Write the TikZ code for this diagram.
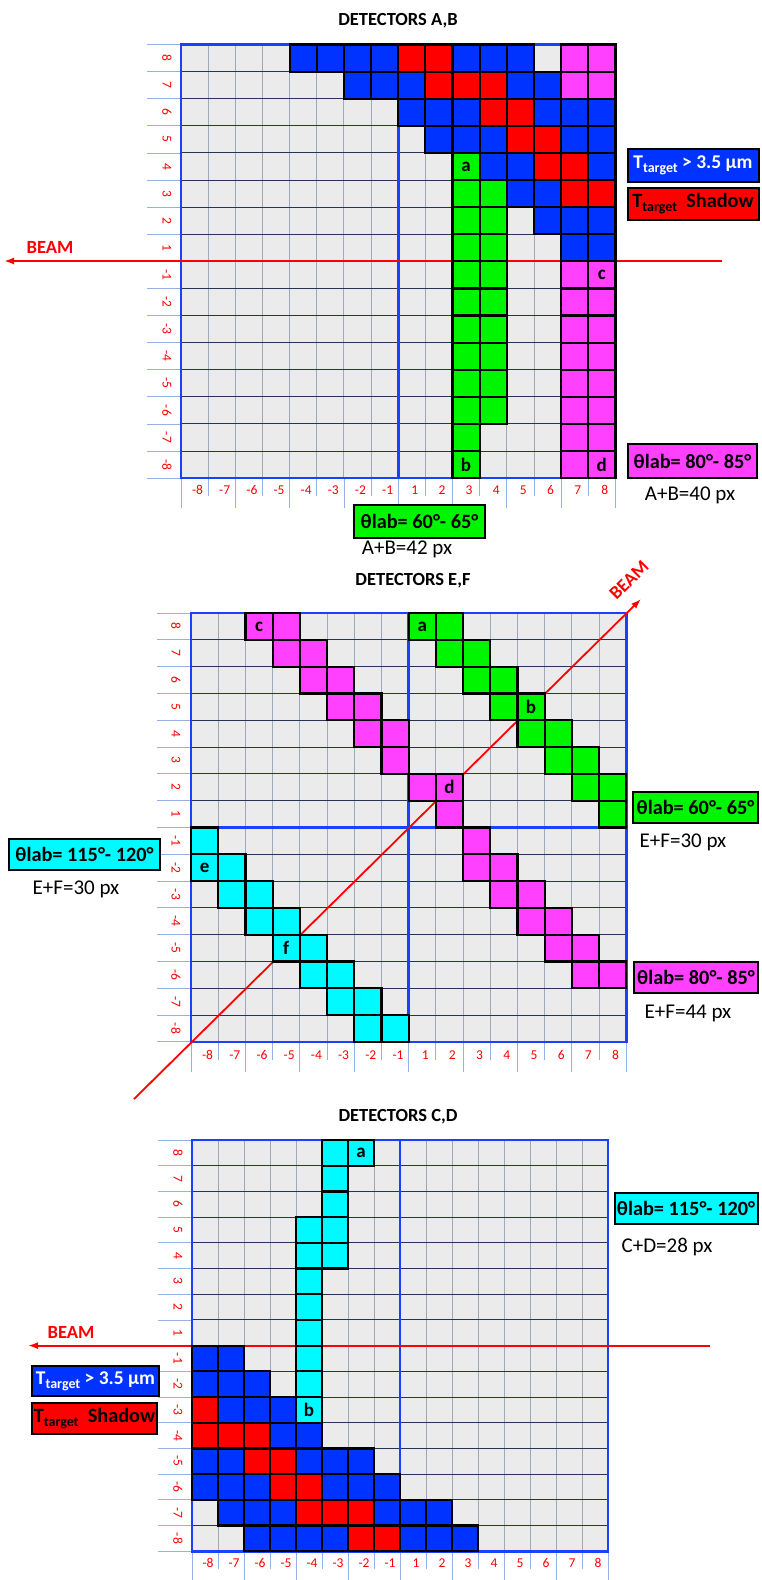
\documentclass[tikz,border=0pt]{standalone}
\usepackage{fontspec}
\setmainfont{Carlito}
\usetikzlibrary{arrows.meta}
\definecolor{cBlue}{RGB}{0,51,255}
\definecolor{cRed}{RGB}{255,0,0}
\definecolor{cGreen}{RGB}{0,245,0}
\definecolor{cMag}{RGB}{255,64,255}
\definecolor{cCyan}{RGB}{0,250,255}
\definecolor{cGray}{RGB}{235,235,235}
\definecolor{cVline}{RGB}{160,168,188}
\definecolor{cHline}{RGB}{40,52,85}
\definecolor{cBord}{RGB}{25,65,255}
\definecolor{cTick}{RGB}{150,178,228}
\newcommand\mycell[3]{\fill[#1,draw=black,line width=2.2pt] ({\gx+(#2-1)*\cw},{\gy+(#3-1)*\ch}) rectangle ++(\cw,\ch);}
\newcommand\myletter[3]{\node[lett] (#1) at ({\gx+(#2-0.5)*\cw},{\gy+(#3-0.5)*\ch}) {#1};}
\newcommand\drawgrid[2]{%
  \fill[cGray] (\gx,\gy) rectangle ++({16*\cw},{16*\ch});
  \foreach \i in {1,...,15} \draw[vline] ({\gx+\i*\cw},\gy) -- ++(0,{16*\ch});
  \foreach \i in {1,...,15} \draw[hline] (\gx,{\gy+\i*\ch}) -- ++({16*\cw},0);
  \foreach \i in {0,...,16} \draw[tick] ({\gx-34},{\gy+\i*\ch}) -- ++(34,0);
  \foreach \i in {0,...,16} \draw[tick] ({\gx+\i*\cw},{\gy+16*\ch}) -- ++(0,{ifthenelse(mod(\i,2)==0,30,18)});
  \draw[bord] (\gx,\gy) rectangle ++({16*\cw},{16*\ch});
  \draw[bord] ({\gx+8*\cw},\gy) -- ++(0,{16*\ch});
  \ifnum#1=1 \draw[bord] (\gx,{\gy+8*\ch}) -- ++({16*\cw},0);\fi
  \foreach \lab [count=\i] in {8,7,6,5,4,3,2,1,-1,-2,-3,-4,-5,-6,-7,-8}
    \node[ylab] (yl#2\i) at (\lx,{\gy+(\i-0.5)*\ch}) {\lab};
  \foreach \lab [count=\i] in {-8,-7,-6,-5,-4,-3,-2,-1,1,2,3,4,5,6,7,8}
    \node[xlab] (xl#2\i) at ({\gx+(\i-0.5)*\cw+3},\ly) {\lab};
}
\newcommand\Tt{T\raisebox{-0.45ex}{\fontsize{14}{14}\selectfont target}}
\begin{document}
\begin{tikzpicture}[x=1pt,y=-1pt,
  vline/.style={draw=cVline,line width=0.9pt},
  hline/.style={draw=cHline,line width=0.9pt},
  tick/.style={draw=cTick,line width=0.8pt},
  bord/.style={draw=cBord,line width=2.6pt},
  ylab/.style={text=cRed,font=\fontsize{13.5}{13.5}\selectfont,rotate=-90,inner sep=0pt},
  xlab/.style={text=cRed,font=\fontsize{13.5}{13.5}\selectfont,inner sep=0pt},
  lett/.style={font=\bfseries\fontsize{19}{19}\selectfont,inner sep=0pt},
  ttl/.style={font=\bfseries\fontsize{18.5}{18.5}\selectfont,inner sep=0pt},
  box/.style={draw=black,line width=2pt,inner sep=0pt,font=\bfseries\fontsize{20.3}{20.3}\selectfont},
  note/.style={font=\fontsize{21}{21}\selectfont,inner sep=0pt},
  beamline/.style={draw=cRed,line width=1.8pt},
  beamtxt/.style={text=cRed,font=\bfseries\fontsize{18.6}{18.6}\selectfont,inner sep=0pt}]
\useasboundingbox (0,0) rectangle (761,1580);
\fill[white] (0,0) rectangle (761,1580);

% ================= GRID 1 : A,B =================
\node[ttl] (t1) at (398,21) {DETECTORS A,B};
\def\gx{181}\def\gy{44.5}\def\cw{27.15}\def\ch{27.1}\def\lx{167}\def\ly{490}
\drawgrid{0}{a}
\coordinate (b1s) at (722,261);
\coordinate (b1e) at (4,261);
\draw[beamline,-{Latex[length=10pt,width=7pt]}] (b1s) -- (b1e);
\node[beamtxt] (bt1) at (50,247) {BEAM};
\foreach \c/\r in {5/1,6/1,7/1,8/1,11/1,12/1,13/1,7/2,8/2,9/2,13/2,14/2,9/3,10/3,11/3,14/3,15/3,16/3,10/4,11/4,12/4,15/4,16/4,12/5,13/5,16/5,13/6,14/6,14/7,15/7,16/7,15/8,16/8}
  \mycell{cBlue}{\c}{\r};
\foreach \c/\r in {9/1,10/1,10/2,11/2,12/2,12/3,13/3,13/4,14/4,14/5,15/5,15/6,16/6}
  \mycell{cRed}{\c}{\r};
\foreach \r in {1,2,9,10,11,12,13,14,15,16} {\mycell{cMag}{15}{\r}\mycell{cMag}{16}{\r}}
\foreach \r in {5,...,16} {\mycell{cGreen}{11}{\r}}
\foreach \r in {6,...,14} {\mycell{cGreen}{12}{\r}}
\myletter{a}{11}{5}\myletter{b}{11}{16}\myletter{c}{16}{9}\myletter{d}{16}{16}
\node[box,fill=cBlue,text=white,minimum width=131pt,minimum height=33pt] (k1) at (693,165.5) {\fontsize{19.5}{19.5}\selectfont\Tt{} {>} 3.5 μm};
\node[box,fill=cRed,minimum width=131pt,minimum height=32pt] (k2) at (693,203.5) {\Tt\ \ Shadow};
\node[box,fill=cMag,minimum width=129pt,minimum height=34pt] (m1) at (692.5,461) {θlab= 80°- 85°};
\node[note] (n1) at (690,495) {A+B=40 px};
\node[box,fill=cGreen,minimum width=131pt,minimum height=33pt] (g1) at (419.5,521.5) {θlab= 60°- 65°};
\node[note] (n2) at (407,549) {A+B=42 px};

% ================= GRID 2 : E,F =================
\node[ttl] (t2) at (413,581) {DETECTORS E,F};
\def\gx{191}\def\gy{613}\def\cw{27.2}\def\ch{26.8}\def\lx{176}\def\ly{1055}
\drawgrid{1}{e}
\coordinate (b2s) at (134,1099);
\coordinate (b2e) at (641,599);
\draw[beamline,-{Latex[length=10pt,width=7pt]}] (b2s) -- (b2e);
\node[beamtxt,rotate=45] (bt2) at (629,580) {BEAM};
\foreach \c/\r in {3/1,4/1,4/2,5/2,5/3,6/3,6/4,7/4,7/5,8/5,8/6,9/7,10/7,10/8,11/9,11/10,12/10,12/11,13/11,13/12,14/12,14/13,15/13,15/14,16/14}
  \mycell{cMag}{\c}{\r};
\foreach \c/\r in {9/1,10/1,10/2,11/2,11/3,12/3,12/4,13/4,13/5,14/5,14/6,15/6,15/7,16/7,16/8}
  \mycell{cGreen}{\c}{\r};
\foreach \c/\r in {1/9,1/10,2/10,2/11,3/11,3/12,4/12,4/13,5/13,5/14,6/14,6/15,7/15,7/16,8/16}
  \mycell{cCyan}{\c}{\r};
\myletter{c}{3}{1}\myletter{a}{9}{1}\myletter{b}{13}{4}\myletter{d}{10}{7}\myletter{e}{1}{10}\myletter{f}{4}{13}
\node[box,fill=cCyan,minimum width=151pt,minimum height=31pt] (cy2) at (84.5,854.5) {θlab= 115°- 120°};
\node[note] (n3) at (76,889) {E+F=30 px};
\node[box,fill=cGreen,minimum width=125pt,minimum height=31pt] (g2) at (695.5,807.5) {θlab= 60°- 65°};
\node[note] (n4) at (683,842) {E+F=30 px};
\node[box,fill=cMag,minimum width=124pt,minimum height=31pt] (m2) at (696,977.5) {θlab= 80°- 85°};
\node[note] (n5) at (688,1013) {E+F=44 px};

% ================= GRID 3 : C,D =================
\node[ttl] (t3) at (398,1117) {DETECTORS C,D};
\def\gx{192}\def\gy{1140}\def\cw{26}\def\ch{25.7}\def\lx{178}\def\ly{1563}
\drawgrid{0}{c}
\coordinate (b3s) at (710,1345.6);
\coordinate (b3e) at (28,1345.6);
\draw[beamline,-{Latex[length=10pt,width=7pt]}] (b3s) -- (b3e);
\node[beamtxt] (bt3) at (71,1332) {BEAM};
\foreach \c/\r in {6/1,7/1,6/2,6/3,5/4,6/4,5/5,6/5,5/6,5/7,5/8,5/9,5/10,5/11}
  \mycell{cCyan}{\c}{\r};
\foreach \c/\r in {1/9,2/9,1/10,2/10,3/10,2/11,3/11,4/11,4/12,5/12,1/13,2/13,5/13,6/13,7/13,1/14,2/14,3/14,6/14,7/14,8/14,2/15,3/15,4/15,8/15,9/15,10/15,3/16,4/16,5/16,6/16,9/16,10/16,11/16}
  \mycell{cBlue}{\c}{\r};
\foreach \c/\r in {1/11,1/12,2/12,3/12,3/13,4/13,4/14,5/14,5/15,6/15,7/15,7/16,8/16}
  \mycell{cRed}{\c}{\r};
\myletter{a}{7}{1}\myletter{b}{5}{11}
\node[box,fill=cCyan,minimum width=143pt,minimum height=31pt] (cy3) at (686,1208.5) {θlab= 115°- 120°};
\node[note] (n6) at (667,1247) {C+D=28 px};
\node[box,fill=cBlue,text=white,minimum width=127pt,minimum height=30pt] (k3) at (95.5,1381) {\fontsize{19.5}{19.5}\selectfont\Tt{} {>} 3.5 μm};
\node[box,fill=cRed,minimum width=125pt,minimum height=31pt] (k4) at (94.5,1418.5) {\Tt\ \ Shadow};
\end{tikzpicture}
\end{document}
